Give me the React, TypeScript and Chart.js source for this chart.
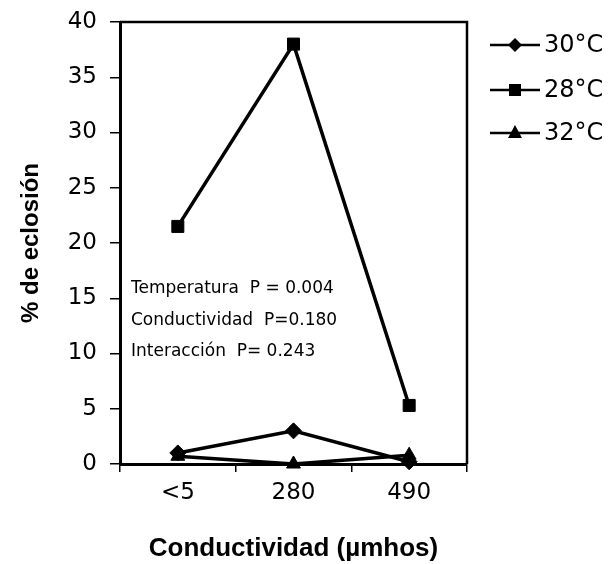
import React, { useEffect, useRef } from "react";
import { Chart, registerables } from "chart.js";

Chart.register(...registerables);

const categories = ["<5", "280", "490"];
const seriesNames = ["30°C", "28°C", "32°C"];
const temp30 = [1.0, 3.0, 0.2];
const temp28 = [21.5, 38.0, 5.3];
const temp32 = [0.7, 0.0, 0.8];
const markerStyles = ["rectRot", "rect", "triangle"];
const statLines = ["Temperatura  P = 0.004", "Conductividad  P=0.180", "Interacción  P= 0.243"];
const statYValues = [15.9, 13.0, 10.2];

const FONT = "'DejaVu Sans', Arial, sans-serif";
const BOLD = "Arial, 'Liberation Sans', sans-serif";

const boxPlugin = {
  id: "boxPlugin",
  afterDraw(chart: any) {
    const { ctx, chartArea } = chart;
    const { left, right, top, bottom } = chartArea;
    ctx.save();
    ctx.strokeStyle = "#000";
    ctx.lineWidth = 2.5;
    ctx.beginPath();
    ctx.moveTo(left, top);
    ctx.lineTo(right, top);
    ctx.lineTo(right, bottom);
    ctx.stroke();
    // stats text
    const y = chart.scales.y;
    ctx.fillStyle = "#000";
    ctx.font = `17px ${FONT}`;
    ctx.textBaseline = "middle";
    ctx.textAlign = "left";
    statLines.forEach((t, i) => {
      ctx.fillText(t, left + 11, y.getPixelForValue(statYValues[i]));
    });
    // legend
    const lx0 = right + 23;
    const lx1 = right + 73;
    const ys = [top + 23, top + 68, top + 111];
    ctx.font = `24px ${FONT}`;
    seriesNames.forEach((name, i) => {
      const ly = ys[i];
      ctx.lineWidth = 2.5;
      ctx.beginPath();
      ctx.moveTo(lx0, ly);
      ctx.lineTo(lx1, ly);
      ctx.stroke();
      const mx = (lx0 + lx1) / 2;
      ctx.beginPath();
      if (i === 0) {
        ctx.moveTo(mx, ly - 7);
        ctx.lineTo(mx + 7, ly);
        ctx.lineTo(mx, ly + 7);
        ctx.lineTo(mx - 7, ly);
      } else if (i === 1) {
        ctx.rect(mx - 6, ly - 6, 12, 12);
      } else {
        ctx.moveTo(mx, ly - 8);
        ctx.lineTo(mx + 7, ly + 5);
        ctx.lineTo(mx - 7, ly + 5);
      }
      ctx.closePath();
      ctx.fill();
      ctx.fillText(name, lx1 + 4, ly + 1);
    });
    ctx.restore();
  },
};

export default function App() {
  const ref = useRef<HTMLCanvasElement>(null);
  useEffect(() => {
    if (!ref.current) return;
    const mk = (label: string, data: number[], ps: string, r: number) => ({
      label,
      data,
      borderColor: "#000",
      backgroundColor: "#000",
      borderWidth: 3.5,
      pointStyle: ps,
      pointRadius: r,
      pointBackgroundColor: "#000",
      pointBorderColor: "#000",
      pointBorderWidth: 1,
      tension: 0,
      clip: false as any,
    });
    const chart = new Chart(ref.current, {
      type: "line",
      data: {
        labels: categories,
        datasets: [
          mk(seriesNames[0], temp30, markerStyles[0], 8),
          mk(seriesNames[1], temp28, markerStyles[1], 8.5),
          mk(seriesNames[2], temp32, markerStyles[2], 8),
        ],
      },
      options: {
        animation: false,
        responsive: false,
        maintainAspectRatio: false,
        layout: { padding: { left: 0, right: 142, top: 22, bottom: 0 } },
        plugins: { legend: { display: false }, tooltip: { enabled: false } },
        scales: {
          x: {
            type: "category",
            offset: true,
            grid: { display: true, offset: true, drawOnChartArea: false, tickLength: 8, color: "#000", lineWidth: 1.5 },
            border: { display: true, color: "#000", width: 3 },
            ticks: { color: "#000", font: { family: FONT, size: 23 }, padding: 7, maxRotation: 0 },
            title: {
              display: true,
              text: "Conductividad (µmhos)",
              color: "#000",
              font: { family: BOLD, size: 26, weight: "bold" },
              padding: { top: 16, bottom: 0 },
            },
            afterFit(s: any) {
              s.height = 100;
              s.paddingLeft = 0;
              s.paddingRight = 0;
            },
          },
          y: {
            min: 0,
            max: 40,
            ticks: { stepSize: 5, color: "#000", font: { family: FONT, size: 23 }, padding: 13 },
            grid: { display: true, drawOnChartArea: false, tickLength: 10, color: "#000", lineWidth: 1.5 },
            border: { display: true, color: "#000", width: 3 },
            title: {
              display: true,
              text: "% de eclosión",
              color: "#000",
              font: { family: BOLD, size: 24, weight: "bold" },
              padding: { top: 17, bottom: 0 },
            },
            afterFit(s: any) {
              s.width = 120;
              s.paddingTop = 0;
              s.paddingBottom = 0;
            },
          },
        },
      },
      plugins: [boxPlugin],
    } as any);
    return () => chart.destroy();
  }, []);
  return (
    <div style={{ position: "fixed", left: 0, top: 0, width: 609, height: 564, background: "#fff" }}>
      <canvas ref={ref} width={609} height={564} style={{ width: 609, height: 564 }} />
    </div>
  );
}
